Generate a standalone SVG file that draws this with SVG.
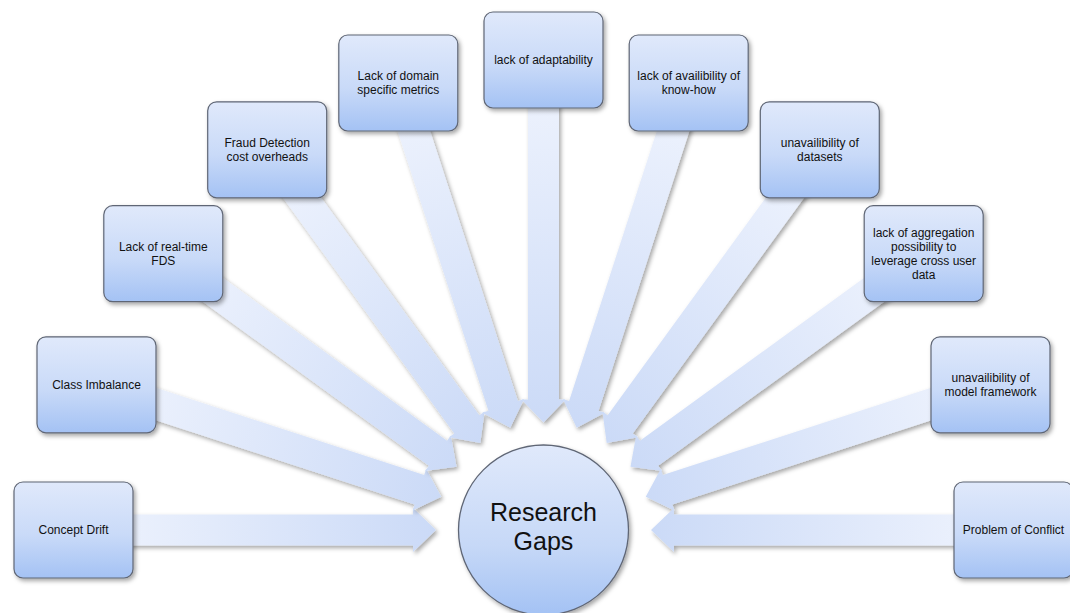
<svg xmlns="http://www.w3.org/2000/svg" xmlns:xlink="http://www.w3.org/1999/xlink" width="1070" height="613" viewBox="0 0 1070 613">
  <style>
    .box { fill: url(#boxFill); stroke: #5f6675; stroke-width: 1.2; }
    .hub { fill: url(#hubFill); stroke: #5f6675; stroke-width: 1.3; }
    .lbl { font-family: "Liberation Sans", Arial, sans-serif; font-size: 12px; fill: #111; text-anchor: middle; }
    .hubLbl { font-family: "Liberation Sans", Arial, sans-serif; font-size: 25px; fill: #111; text-anchor: middle; }
    .arrow { fill: url(#arrowFill); }
  </style>
  <defs>
    <linearGradient id="boxFill" x1="0" y1="0" x2="0" y2="1">
      <stop offset="0" stop-color="#e0e9fb"/>
      <stop offset="0.55" stop-color="#c9daf8"/>
      <stop offset="1" stop-color="#a4c2f4"/>
    </linearGradient>
    <linearGradient id="hubFill" x1="0" y1="0" x2="0" y2="1">
      <stop offset="0" stop-color="#e0e9fb"/>
      <stop offset="0.6" stop-color="#c6d8f7"/>
      <stop offset="1" stop-color="#a4c2f4"/>
    </linearGradient>
    <!-- arrow drawn in hub-local coordinates, pointing at the origin from the left -->
    <linearGradient id="arrowFill" gradientUnits="userSpaceOnUse" x1="-440" y1="0" x2="-107" y2="0">
      <stop offset="0" stop-color="#edf2fd"/>
      <stop offset="1" stop-color="#cbdaf7"/>
    </linearGradient>
    <path id="arrow" class="arrow" d="M -440 -15.5 L -130.5 -15.5 L -130.5 -22 L -107.5 0 L -130.5 22 L -130.5 15.5 L -440 15.5 Z"/>
    <filter id="shadow" x="-20%" y="-20%" width="140%" height="140%">
      <feDropShadow dx="2" dy="2.5" stdDeviation="2" flood-color="#000" flood-opacity="0.35"/>
    </filter>
  </defs>

  <rect width="1070" height="613" fill="#fff"/>

  <!-- converging arrows, one every 18 degrees around the hub -->
  <g id="connectors">
    <g filter="url(#shadow)"><use xlink:href="#arrow" transform="translate(543.5,530) rotate(0)"/></g>
    <g filter="url(#shadow)"><use xlink:href="#arrow" transform="translate(543.5,530) rotate(18)"/></g>
    <g filter="url(#shadow)"><use xlink:href="#arrow" transform="translate(543.5,530) rotate(36)"/></g>
    <g filter="url(#shadow)"><use xlink:href="#arrow" transform="translate(543.5,530) rotate(54)"/></g>
    <g filter="url(#shadow)"><use xlink:href="#arrow" transform="translate(543.5,530) rotate(72)"/></g>
    <g filter="url(#shadow)"><use xlink:href="#arrow" transform="translate(543.5,530) rotate(90)"/></g>
    <g filter="url(#shadow)"><use xlink:href="#arrow" transform="translate(543.5,530) rotate(108)"/></g>
    <g filter="url(#shadow)"><use xlink:href="#arrow" transform="translate(543.5,530) rotate(126)"/></g>
    <g filter="url(#shadow)"><use xlink:href="#arrow" transform="translate(543.5,530) rotate(144)"/></g>
    <g filter="url(#shadow)"><use xlink:href="#arrow" transform="translate(543.5,530) rotate(162)"/></g>
    <g filter="url(#shadow)"><use xlink:href="#arrow" transform="translate(543.5,530) rotate(180)"/></g>
  </g>

  <g id="research-gaps">
    <circle class="hub" cx="543.5" cy="530" r="85" filter="url(#shadow)"/>
    <text class="hubLbl" x="543.5" y="521">Research</text>
    <text class="hubLbl" x="543.5" y="550">Gaps</text>
  </g>

  <g id="concept-drift">
    <rect class="box" x="14" y="482" width="119" height="96" rx="9" filter="url(#shadow)"/>
    <text class="lbl" x="73.5" y="534">Concept Drift</text>
  </g>

  <g id="class-imbalance">
    <rect class="box" x="37" y="336.8" width="119" height="96" rx="9" filter="url(#shadow)"/>
    <text class="lbl" x="96.5" y="389">Class Imbalance</text>
  </g>

  <g id="real-time-fds">
    <rect class="box" x="103.8" y="205.7" width="119" height="96" rx="9" filter="url(#shadow)"/>
    <text class="lbl" x="163.3" y="250.7">Lack of real-time</text>
    <text class="lbl" x="163.3" y="264.7">FDS</text>
  </g>

  <g id="cost-overheads">
    <rect class="box" x="207.7" y="101.8" width="119" height="96" rx="9" filter="url(#shadow)"/>
    <text class="lbl" x="267.2" y="146.8">Fraud Detection</text>
    <text class="lbl" x="267.2" y="160.8">cost overheads</text>
  </g>

  <g id="domain-metrics">
    <rect class="box" x="338.8" y="35" width="119" height="96" rx="9" filter="url(#shadow)"/>
    <text class="lbl" x="398.3" y="80">Lack of domain</text>
    <text class="lbl" x="398.3" y="94">specific metrics</text>
  </g>

  <g id="adaptability">
    <rect class="box" x="484" y="12" width="119" height="96" rx="9" filter="url(#shadow)"/>
    <text class="lbl" x="543.5" y="64">lack of adaptability</text>
  </g>

  <g id="know-how">
    <rect class="box" x="629.2" y="35" width="119" height="96" rx="9" filter="url(#shadow)"/>
    <text class="lbl" x="688.7" y="80">lack of availibility of</text>
    <text class="lbl" x="688.7" y="94">know-how</text>
  </g>

  <g id="datasets">
    <rect class="box" x="760.3" y="101.8" width="119" height="96" rx="9" filter="url(#shadow)"/>
    <text class="lbl" x="819.8" y="146.8">unavailibility of</text>
    <text class="lbl" x="819.8" y="160.8">datasets</text>
  </g>

  <g id="aggregation">
    <rect class="box" x="864.2" y="205.7" width="119" height="96" rx="9" filter="url(#shadow)"/>
    <text class="lbl" x="923.7" y="236.7">lack of aggregation</text>
    <text class="lbl" x="923.7" y="250.7">possibility to</text>
    <text class="lbl" x="923.7" y="264.7">leverage cross user</text>
    <text class="lbl" x="923.7" y="278.7">data</text>
  </g>

  <g id="model-framework">
    <rect class="box" x="931" y="336.8" width="119" height="96" rx="9" filter="url(#shadow)"/>
    <text class="lbl" x="990.5" y="381.8">unavailibility of</text>
    <text class="lbl" x="990.5" y="395.8">model framework</text>
  </g>

  <g id="conflict">
    <rect class="box" x="954" y="482" width="119" height="96" rx="9" filter="url(#shadow)"/>
    <text class="lbl" x="1013.5" y="534">Problem of Conflict</text>
  </g>
</svg>
